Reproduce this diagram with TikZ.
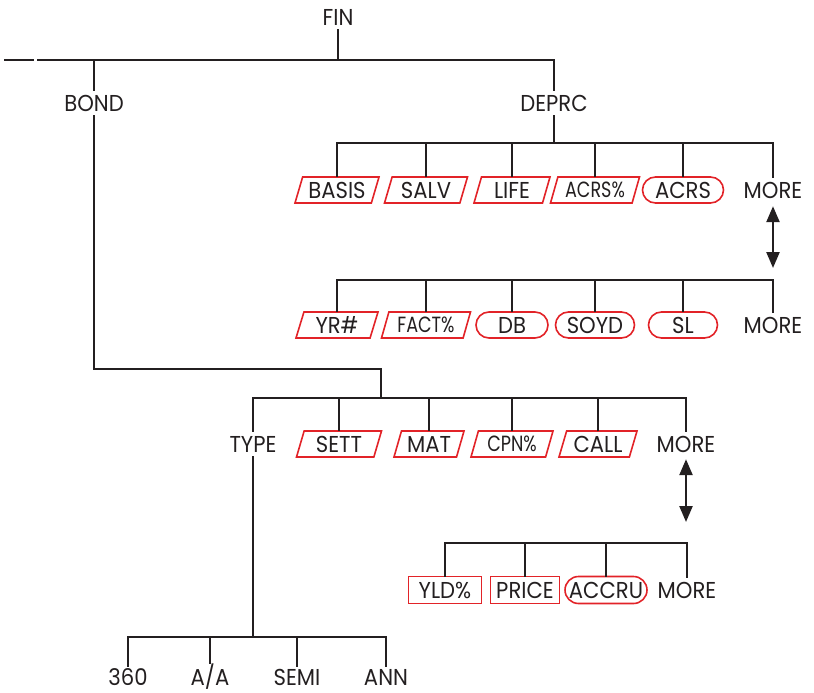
\documentclass[tikz,border=0pt]{standalone}
\usepackage{fontspec}
\setmainfont{Poppins}
\newfontfamily\menufont[FakeStretch=0.92]{Poppins}
\newfontfamily\tightfont[FakeStretch=0.8]{Poppins}
\usetikzlibrary{shapes,arrows.meta,positioning,calc}
\definecolor{keyred}{RGB}{226,35,40}
\definecolor{inkblack}{RGB}{35,31,32}

\begin{document}
\begin{tikzpicture}[x=1pt,y=-1pt,
    lbl/.style={font=\menufont\fontsize{23}{23}\selectfont, inner sep=0pt, minimum height=26pt, text=inkblack},
    narrow/.style={font=\tightfont\fontsize{22}{22}\selectfont},
    softkey/.style={lbl, draw=keyred, line width=1.6pt, trapezium, trapezium left angle=65,
        trapezium right angle=115, trapezium stretches body},
    roundkey/.style={lbl, draw=keyred, line width=1.6pt, rounded rectangle},
    plainkey/.style={lbl, draw=keyred, line width=1.6pt, rectangle, minimum height=27pt},
    wire/.style={draw=inkblack, line width=1.6pt, line cap=rect},
    flip/.style={draw=inkblack, line width=2.4pt, {Triangle[width=13pt,length=16pt]}-{Triangle[width=13pt,length=16pt]}},
]
    \useasboundingbox (0,0) rectangle (814,693);
    % Top level
    \node[lbl] (fin) at (338,17) {FIN};
    \node[lbl] (bond) at (94,103) {BOND};
    \node[lbl] (deprc) at (554,103) {DEPRC};
    \coordinate (dashl) at (5,60);
    \coordinate (dashr) at (33,60);
    \coordinate (topl) at (38,60);
    \draw[wire] (dashl) -- (dashr);
    \draw[wire] (topl) -| (deprc.north);
    \draw[wire] (fin.south) -- (fin |- topl);
    \draw[wire] (bond |- topl) -- (bond.north);
    % DEPRC menu, page 1
    \coordinate (busA) at (0,143);
    \foreach \n/\t/\x/\w in {basis/BASIS/337/84, salv/SALV/426/83, life/LIFE/512/76} {
        \node[softkey, minimum width=\w pt] (\n) at (\x,190) {\t};
    }
    \node[softkey, narrow, minimum width=89pt] (acrsp) at (595,190) {ACRS\%};
    \node[roundkey, minimum width=81pt] (acrs) at (683,190) {ACRS};
    \node[lbl] (moreA) at (773,190) {MORE};
    \foreach \n in {basis,salv,life,acrsp,acrs,moreA}
        \draw[wire] (\n.north) -- (\n |- busA);
    \draw[wire] (basis |- busA) -- (moreA |- busA);
    \draw[wire] (deprc.south) -- (deprc |- busA);
    % DEPRC menu, page 2
    \coordinate (busB) at (0,280);
    \node[softkey, minimum width=82pt] (yr) at (337,325) {YR\#};
    \node[softkey, narrow, minimum width=89pt] (fact) at (426,325) {FACT\%};
    \foreach \n/\t/\x/\w in {db/DB/512/72, soyd/SOYD/595/79, sl/SL/683/69} {
        \node[roundkey, minimum width=\w pt] (\n) at (\x,325) {\t};
    }
    \node[lbl] (moreB) at (773,325) {MORE};
    \foreach \n in {yr,fact,db,soyd,sl,moreB}
        \draw[wire] (\n.north) -- (\n |- busB);
    \draw[wire] (yr |- busB) -- (moreB |- busB);
    \draw[flip] ([yshift=-3pt]moreA.south) -- ([yshift=12pt]moreA |- busB);
    % BOND menu, page 1
    \coordinate (bendB) at (381,369);
    \coordinate (busC) at (0,398);
    \draw[wire] (bond.south) |- (bendB) -- (bendB |- busC);
    \node[lbl] (type) at (253,444) {TYPE};
    \foreach \n/\t/\x/\w in {sett/SETT/339/85, mat/MAT/429/70, call/CALL/598/78} {
        \node[softkey, minimum width=\w pt] (\n) at (\x,444) {\t};
    }
    \node[softkey, narrow, minimum width=82pt] (cpn) at (512,444) {CPN\%};
    \node[lbl] (moreC) at (686,444) {MORE};
    \foreach \n in {type,sett,mat,cpn,call,moreC}
        \draw[wire] (\n.north) -- (\n |- busC);
    \draw[wire] (type |- busC) -- (moreC |- busC);
    % BOND menu, page 2
    \coordinate (busD) at (0,543);
    \node[plainkey, minimum width=73pt] (yld) at (445,590) {YLD\%};
    \node[plainkey, minimum width=69pt] (price) at (525,590) {PRICE};
    \node[roundkey, minimum width=82pt, minimum height=27pt] (accru) at (606,590) {ACCRU};
    \node[lbl] (moreD) at (687,590) {MORE};
    \foreach \n in {yld,price,accru,moreD}
        \draw[wire] (\n.north) -- (\n |- busD);
    \draw[wire] (yld |- busD) -- (moreD |- busD);
    \draw[flip] ([yshift=-2pt]moreC.south) -- ([yshift=21pt]moreC |- busD);
    % TYPE menu
    \coordinate (busE) at (0,637);
    \foreach \n/\t/\x in {d360/360/128, aa/{A/A}/210, semi/SEMI/297, ann/ANN/386} {
        \node[lbl, minimum height=20pt] (\n) at (\x,677) {\t};
    }
    \foreach \n in {d360,aa,semi,ann}
        \draw[wire] ([yshift=1pt]\n.north) -- (\n |- busE);
    \draw[wire] (d360 |- busE) -- (ann |- busE);
    \draw[wire] (type.south) -- (type |- busE);
\end{tikzpicture}
\end{document}
